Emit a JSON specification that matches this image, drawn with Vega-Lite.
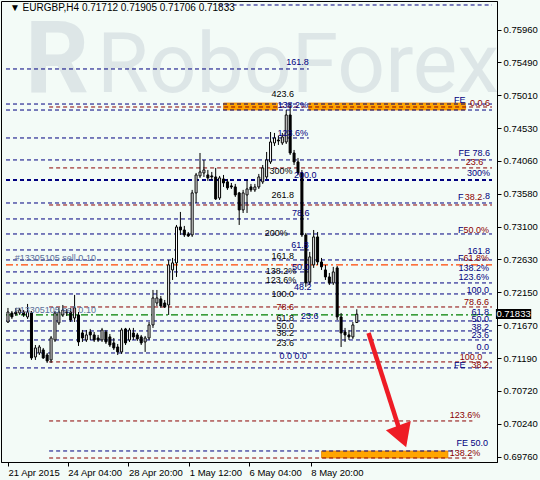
{
"$schema": "https://vega.github.io/schema/vega-lite/v6.json",
"width": 496, "height": 461,
"autosize": {"type": "none"},
"padding": {"left": 1, "top": 1, "right": 43, "bottom": 18},
"background": "#F3FBF7",
"view": {"stroke": "#000000", "fill": "#F3FBF7"},
"config": {"font": "Liberation Sans", "axis": {"grid": false, "labelOverlap": false, "labelFlush": false}},
"resolve": {"axis": {"x": "independent", "y": "independent"}},
"datasets": {
"wm": [{"i": 74, "p": 0.7506, "t": "RoboForex"}],
"logo": [{"i": 12.5, "p": 0.7506, "t": "R"}],
"rects": [
{"a": 55, "b": 68.75, "p1": 0.749, "p2": 0.74798},
{"a": 76.75, "b": 116.75, "p1": 0.749, "p2": 0.74798},
{"a": 80, "b": 112.25, "p1": 0.69847, "p2": 0.69745}],
"levels": [
{"p": 0.76323, "a": 53.75, "b": 123.5, "col": "#000080", "w": 1, "k": "d"},
{"p": 0.75394, "a": -0.5, "b": 76.75, "col": "#000080", "w": 1, "k": "d"},
{"p": 0.74885, "a": -0.5, "b": 123.5, "col": "#000080", "w": 1, "k": "d"},
{"p": 0.74842, "a": 10.5, "b": 123.5, "col": "#8B0000", "w": 1, "k": "d"},
{"p": 0.74798, "a": -0.5, "b": 123.5, "col": "#000080", "w": 1, "k": "d"},
{"p": 0.74392, "a": -0.5, "b": 76.75, "col": "#000080", "w": 1, "k": "d"},
{"p": 0.74073, "a": -0.5, "b": 123.5, "col": "#000080", "w": 1, "k": "d"},
{"p": 0.73957, "a": 10.5, "b": 123.5, "col": "#8B0000", "w": 1, "k": "d"},
{"p": 0.73783, "a": -0.5, "b": 123.5, "col": "#000080", "w": 2, "k": "d"},
{"p": 0.73448, "a": -0.5, "b": 123.5, "col": "#000080", "w": 1, "k": "d"},
{"p": 0.73419, "a": 10.5, "b": 123.5, "col": "#8B0000", "w": 1, "k": "d"},
{"p": 0.73216, "a": -0.5, "b": 76.75, "col": "#000080", "w": 1, "k": "d"},
{"p": 0.72998, "a": -0.5, "b": 123.5, "col": "#000080", "w": 1, "k": "d"},
{"p": 0.72766, "a": -0.5, "b": 76.75, "col": "#000080", "w": 1, "k": "d"},
{"p": 0.72621, "a": -0.5, "b": 123.5, "col": "#000080", "w": 1, "k": "d"},
{"p": 0.72549, "a": -0.5, "b": 123.5, "col": "#FF4500", "w": 1.2, "k": "dd"},
{"p": 0.72447, "a": -0.5, "b": 76.75, "col": "#000080", "w": 1, "k": "d"},
{"p": 0.72287, "a": -0.5, "b": 123.5, "col": "#000080", "w": 1, "k": "d"},
{"p": 0.72127, "a": -0.5, "b": 123.5, "col": "#000080", "w": 1, "k": "d"},
{"p": 0.71938, "a": 10.5, "b": 123.5, "col": "#8B0000", "w": 1, "k": "d"},
{"p": 0.71822, "a": -0.5, "b": 123.5, "col": "#008000", "w": 1.2, "k": "dd"},
{"p": 0.71735, "a": -0.5, "b": 123.5, "col": "#000080", "w": 1, "k": "d"},
{"p": 0.7159, "a": -0.5, "b": 123.5, "col": "#000080", "w": 1, "k": "d"},
{"p": 0.71459, "a": -0.5, "b": 123.5, "col": "#000080", "w": 1, "k": "d"},
{"p": 0.7127, "a": -0.5, "b": 123.5, "col": "#000080", "w": 1, "k": "d"},
{"p": 0.7114, "a": 10.5, "b": 123.5, "col": "#8B0000", "w": 1, "k": "d"},
{"p": 0.71053, "a": -0.5, "b": 123.5, "col": "#000080", "w": 1, "k": "d"},
{"p": 0.70283, "a": 10.5, "b": 118.5, "col": "#8B0000", "w": 1, "k": "d"},
{"p": 0.69847, "a": 10.5, "b": 114.25, "col": "#000080", "w": 1, "k": "d"},
{"p": 0.69745, "a": 10.5, "b": 118.5, "col": "#8B0000", "w": 1, "k": "d"}],
"candles": [
{"i":0,"o":0.7172,"h":0.71924,"l":0.71706,"c":0.71865},
{"i":1,"o":0.71851,"h":0.7188,"l":0.71764,"c":0.71793},
{"i":2,"o":0.71865,"h":0.71924,"l":0.71807,"c":0.71836},
{"i":3,"o":0.71851,"h":0.71924,"l":0.71822,"c":0.71894},
{"i":4,"o":0.71865,"h":0.71894,"l":0.71793,"c":0.71822},
{"i":5,"o":0.71793,"h":0.71982,"l":0.71764,"c":0.71865},
{"i":6,"o":0.71851,"h":0.7188,"l":0.71169,"c":0.71198},
{"i":7,"o":0.71212,"h":0.71386,"l":0.71169,"c":0.71343},
{"i":8,"o":0.7127,"h":0.71386,"l":0.71241,"c":0.71357},
{"i":9,"o":0.71314,"h":0.71343,"l":0.71183,"c":0.71198},
{"i":10,"o":0.71241,"h":0.7127,"l":0.71125,"c":0.71154},
{"i":11,"o":0.71169,"h":0.71517,"l":0.71125,"c":0.71488},
{"i":12,"o":0.71459,"h":0.7188,"l":0.7143,"c":0.71851},
{"i":13,"o":0.71706,"h":0.71924,"l":0.71677,"c":0.71865},
{"i":14,"o":0.71822,"h":0.71967,"l":0.71793,"c":0.71894},
{"i":15,"o":0.71865,"h":0.71909,"l":0.71807,"c":0.71851},
{"i":16,"o":0.71865,"h":0.71924,"l":0.7172,"c":0.71749},
{"i":17,"o":0.71778,"h":0.72113,"l":0.7172,"c":0.71924},
{"i":18,"o":0.71822,"h":0.71865,"l":0.71372,"c":0.7143},
{"i":19,"o":0.71561,"h":0.71604,"l":0.7143,"c":0.71488},
{"i":20,"o":0.71459,"h":0.71604,"l":0.7143,"c":0.71532},
{"i":21,"o":0.71575,"h":0.71619,"l":0.71459,"c":0.71532},
{"i":22,"o":0.71532,"h":0.71575,"l":0.7143,"c":0.71459},
{"i":23,"o":0.71488,"h":0.71532,"l":0.7143,"c":0.71459},
{"i":24,"o":0.71459,"h":0.71634,"l":0.7143,"c":0.71604},
{"i":25,"o":0.71575,"h":0.71604,"l":0.71401,"c":0.7143},
{"i":26,"o":0.71503,"h":0.71546,"l":0.71357,"c":0.71386},
{"i":27,"o":0.71416,"h":0.71488,"l":0.71314,"c":0.71343},
{"i":28,"o":0.71357,"h":0.71401,"l":0.71241,"c":0.71285},
{"i":29,"o":0.71285,"h":0.71634,"l":0.71256,"c":0.71604},
{"i":30,"o":0.71619,"h":0.71634,"l":0.71386,"c":0.71416},
{"i":31,"o":0.71459,"h":0.71634,"l":0.7143,"c":0.71604},
{"i":32,"o":0.71561,"h":0.71634,"l":0.71459,"c":0.71503},
{"i":33,"o":0.71532,"h":0.71561,"l":0.71445,"c":0.71474},
{"i":34,"o":0.71503,"h":0.71532,"l":0.71386,"c":0.71416},
{"i":35,"o":0.7143,"h":0.71517,"l":0.71285,"c":0.71488},
{"i":36,"o":0.71488,"h":0.7172,"l":0.71459,"c":0.71677},
{"i":37,"o":0.71677,"h":0.72185,"l":0.71634,"c":0.72069},
{"i":38,"o":0.71996,"h":0.72185,"l":0.71953,"c":0.72069},
{"i":39,"o":0.72055,"h":0.72098,"l":0.71924,"c":0.71953},
{"i":40,"o":0.71996,"h":0.7204,"l":0.71924,"c":0.71938},
{"i":41,"o":0.71967,"h":0.72621,"l":0.71822,"c":0.72549},
{"i":42,"o":0.72476,"h":0.7265,"l":0.7233,"c":0.72578},
{"i":43,"o":0.72578,"h":0.73129,"l":0.72374,"c":0.731},
{"i":44,"o":0.731,"h":0.73318,"l":0.72984,"c":0.73056},
{"i":45,"o":0.73056,"h":0.73115,"l":0.72955,"c":0.72984},
{"i":46,"o":0.72998,"h":0.73027,"l":0.72955,"c":0.72969},
{"i":47,"o":0.72984,"h":0.73638,"l":0.72955,"c":0.73594},
{"i":48,"o":0.73594,"h":0.73884,"l":0.73448,"c":0.73855},
{"i":49,"o":0.73841,"h":0.74174,"l":0.73812,"c":0.73899},
{"i":50,"o":0.73884,"h":0.74073,"l":0.73826,"c":0.73928},
{"i":51,"o":0.73855,"h":0.73928,"l":0.73768,"c":0.73812},
{"i":52,"o":0.73841,"h":0.73899,"l":0.73783,"c":0.73826},
{"i":53,"o":0.73826,"h":0.73957,"l":0.73492,"c":0.73507},
{"i":54,"o":0.73521,"h":0.73841,"l":0.73492,"c":0.73812},
{"i":55,"o":0.73797,"h":0.73855,"l":0.73681,"c":0.73739},
{"i":56,"o":0.73754,"h":0.73797,"l":0.73638,"c":0.73667},
{"i":57,"o":0.73696,"h":0.73739,"l":0.73652,"c":0.73681},
{"i":58,"o":0.73681,"h":0.73725,"l":0.73536,"c":0.73565},
{"i":59,"o":0.73594,"h":0.73609,"l":0.73129,"c":0.73347},
{"i":60,"o":0.73347,"h":0.73638,"l":0.73303,"c":0.73594},
{"i":61,"o":0.73565,"h":0.73783,"l":0.73303,"c":0.73652},
{"i":62,"o":0.73681,"h":0.73725,"l":0.73609,"c":0.73638},
{"i":63,"o":0.73638,"h":0.73725,"l":0.73609,"c":0.73681},
{"i":64,"o":0.73681,"h":0.7387,"l":0.73652,"c":0.73826},
{"i":65,"o":0.73754,"h":0.74,"l":0.73725,"c":0.73957},
{"i":66,"o":0.73826,"h":0.74189,"l":0.73797,"c":0.74073},
{"i":67,"o":0.74044,"h":0.74479,"l":0.74015,"c":0.74334},
{"i":68,"o":0.7432,"h":0.74465,"l":0.74276,"c":0.74392},
{"i":69,"o":0.74363,"h":0.74421,"l":0.74291,"c":0.74349},
{"i":70,"o":0.7432,"h":0.74465,"l":0.74291,"c":0.74407},
{"i":71,"o":0.74334,"h":0.74798,"l":0.74305,"c":0.74726},
{"i":72,"o":0.74726,"h":0.749,"l":0.74145,"c":0.74174},
{"i":73,"o":0.74174,"h":0.74218,"l":0.74,"c":0.74044},
{"i":74,"o":0.74044,"h":0.74102,"l":0.73855,"c":0.73884},
{"i":75,"o":0.73884,"h":0.73928,"l":0.72955,"c":0.72984},
{"i":76,"o":0.72984,"h":0.73013,"l":0.72229,"c":0.72287},
{"i":77,"o":0.72301,"h":0.72737,"l":0.72258,"c":0.72665},
{"i":78,"o":0.72549,"h":0.73056,"l":0.72505,"c":0.72955},
{"i":79,"o":0.72955,"h":0.73027,"l":0.72549,"c":0.72592},
{"i":80,"o":0.72592,"h":0.7265,"l":0.72476,"c":0.7252},
{"i":81,"o":0.72476,"h":0.72549,"l":0.7233,"c":0.72374},
{"i":82,"o":0.72374,"h":0.72432,"l":0.72258,"c":0.72287},
{"i":83,"o":0.72287,"h":0.7252,"l":0.72258,"c":0.72447},
{"i":84,"o":0.72505,"h":0.72534,"l":0.71749,"c":0.71793},
{"i":85,"o":0.71793,"h":0.71851,"l":0.71357,"c":0.71561},
{"i":86,"o":0.71575,"h":0.71634,"l":0.7143,"c":0.71532},
{"i":87,"o":0.71532,"h":0.71604,"l":0.71459,"c":0.71503},
{"i":88,"o":0.71503,"h":0.7172,"l":0.71474,"c":0.71677},
{"i":89,"o":0.71712,"h":0.71905,"l":0.71706,"c":0.71833}],
"labels": [
{"i":67.25,"p":0.75031,"t":"423.6","col":"#000000","a":"L"},
{"i":68.75,"p":0.74871,"t":"138.2%","col":"#000080","a":"L"},
{"i":71,"p":0.75495,"t":"161.8","col":"#000080","a":"L"},
{"i":68.75,"p":0.74465,"t":"123.6%","col":"#000080","a":"L"},
{"i":66.75,"p":0.73913,"t":"300%","col":"#000000","a":"L"},
{"i":73,"p":0.73855,"t":"200.0","col":"#000080","a":"L"},
{"i":67.25,"p":0.73565,"t":"261.8","col":"#000000","a":"L"},
{"i":72.5,"p":0.73303,"t":"78.6","col":"#000080","a":"L"},
{"i":65.5,"p":0.73013,"t":"200%","col":"#000000","a":"L"},
{"i":72.25,"p":0.72838,"t":"61.8","col":"#000080","a":"L"},
{"i":67.25,"p":0.72679,"t":"161.8","col":"#000000","a":"L"},
{"i":72.5,"p":0.7252,"t":"50.0","col":"#000080","a":"L"},
{"i":65.75,"p":0.72461,"t":"138.2%","col":"#000000","a":"L"},
{"i":65.75,"p":0.7233,"t":"123.6%","col":"#000000","a":"L"},
{"i":73,"p":0.72229,"t":"48.2","col":"#000080","a":"L"},
{"i":67.25,"p":0.72127,"t":"100.0","col":"#000000","a":"L"},
{"i":68.5,"p":0.71938,"t":"78.6","col":"#8B0000","a":"L"},
{"i":68.5,"p":0.71778,"t":"61.8","col":"#000000","a":"L"},
{"i":74.75,"p":0.71807,"t":"23.6","col":"#000080","a":"L"},
{"i":68.5,"p":0.71662,"t":"50.0","col":"#000000","a":"L"},
{"i":68.5,"p":0.71561,"t":"38.2","col":"#000000","a":"L"},
{"i":68.5,"p":0.71416,"t":"23.6","col":"#000000","a":"L"},
{"i":69.25,"p":0.71227,"t":"0.0 0.0","col":"#000080","a":"L"},
{"i":1.75,"p":0.7265,"t":"#13305105 sell 0.10","col":"#5A6E9A","a":"L"},
{"i":1.75,"p":0.71894,"t":"#13305105 sell 0.10","col":"#5A6E9A","a":"L"},
{"i":116.75,"p":0.74944,"t":"FE","col":"#000080","a":"R"},
{"i":123,"p":0.749,"t":"0.0.6","col":"#8B0000","a":"R"},
{"i":123,"p":0.74174,"t":"FE 78.6","col":"#000080","a":"R"},
{"i":121.25,"p":0.74044,"t":"23.6","col":"#8B0000","a":"R"},
{"i":123,"p":0.73884,"t":"300%","col":"#000080","a":"R"},
{"i":116.25,"p":0.73536,"t":"F","col":"#000080","a":"R"},
{"i":121,"p":0.73536,"t":"38.2","col":"#8B0000","a":"R"},
{"i":123,"p":0.7355,"t":".8","col":"#000080","a":"R"},
{"i":116.25,"p":0.73056,"t":"F","col":"#000080","a":"R"},
{"i":122.75,"p":0.73056,"t":"50.0%","col":"#8B0000","a":"R"},
{"i":123,"p":0.72752,"t":"161.8","col":"#000080","a":"R"},
{"i":116.25,"p":0.7265,"t":"F","col":"#000080","a":"R"},
{"i":122.75,"p":0.7265,"t":"61.8%","col":"#8B0000","a":"R"},
{"i":122.75,"p":0.72505,"t":"138.2%","col":"#000080","a":"R"},
{"i":122.75,"p":0.72374,"t":"123.6%","col":"#000080","a":"R"},
{"i":122.75,"p":0.72185,"t":"100.0","col":"#000080","a":"R"},
{"i":122.75,"p":0.72011,"t":"78.6.6","col":"#8B0000","a":"R"},
{"i":122.75,"p":0.71865,"t":"61.8","col":"#000080","a":"R"},
{"i":122.75,"p":0.71764,"t":"50.0","col":"#000080","a":"R"},
{"i":122.75,"p":0.71648,"t":"38.2","col":"#000080","a":"R"},
{"i":122.75,"p":0.71532,"t":"23.6","col":"#000080","a":"R"},
{"i":122.75,"p":0.71357,"t":"0.0","col":"#000080","a":"R"},
{"i":121,"p":0.71212,"t":"100.0","col":"#8B0000","a":"R"},
{"i":116.75,"p":0.71096,"t":"FE","col":"#000080","a":"R"},
{"i":122.75,"p":0.71096,"t":"38.2","col":"#8B0000","a":"R"},
{"i":120.5,"p":0.7037,"t":"123.6%","col":"#8B0000","a":"R"},
{"i":122.5,"p":0.69963,"t":"FE 50.0","col":"#000080","a":"R"},
{"i":120.5,"p":0.69818,"t":"138.2%","col":"#8B0000","a":"R"}],
"header": [{"i": 0.5, "p": 0.76279, "t": "▼ EURGBP,H4  0.71712 0.71905 0.71706 0.71833"}],
"arrow": [{"a": 92, "b": 99.75, "p1": 0.71561, "p2": 0.70181}],
"head": [{"i": 100.6, "p": 0.70059}],
"price": [{"a": 124.5, "b": 133.5, "p1": 0.71909, "p2": 0.71764, "i": 129, "p": 0.71833, "t": "0.71833"}]
},
"layer": [
{"data": {"name": "wm"},
 "mark": {"type": "text", "fontSize": 84, "font": "Roboto", "color": "#DDE6E7", "align": "center", "baseline": "alphabetic"},
 "encoding": {
  "x": {"field": "i", "type": "quantitative", "title": null, "scale": {"domain": [-0.5, 123.5], "nice": false, "zero": false},
   "axis": {"values": [0, 15.25, 30.75, 46.25, 61.5, 77.25], "labelExpr": "datum.value == 0 ? '21 Apr 2015' : datum.value == 15.25 ? '24 Apr 04:00' : datum.value == 30.75 ? '28 Apr 20:00' : datum.value == 46.25 ? '1 May 12:00' : datum.value == 61.5 ? '6 May 04:00' : '8 May 20:00'", "labelAlign": "left", "labelFlush": false, "labelOverlap": false, "labelFontSize": 9.5, "labelColor": "#000000", "tickColor": "#000000", "domainColor": "#000000", "tickSize": 4, "labelPadding": 1, "title": null}},
  "y": {"field": "p", "type": "quantitative", "title": null, "scale": {"domain": [0.69687, 0.76381], "nice": false, "zero": false},
   "axis": {"orient": "right", "values": [0.6976, 0.7024, 0.7072, 0.7119, 0.7167, 0.7215, 0.7263, 0.731, 0.7358, 0.7406, 0.7453, 0.7501, 0.7549, 0.7596], "format": ".5f", "labelFlush": false, "labelOverlap": false, "labelFontSize": 9.5, "labelColor": "#000000", "tickColor": "#000000", "domainColor": "#000000", "tickSize": 4, "labelPadding": 2, "title": null}},
  "text": {"field": "t"}}},
{"data": {"name": "logo"},
 "mark": {"type": "text", "fontSize": 100, "font": "Roboto", "fontWeight": "bold", "color": "#DDE6E7", "align": "center", "baseline": "alphabetic"},
 "encoding": {
  "x": {"field": "i", "type": "quantitative", "axis": null},
  "y": {"field": "p", "type": "quantitative", "axis": null},
  "text": {"field": "t"}}},
{"data": {"name": "rects"},
 "mark": {"type": "rect", "fill": "#FFA500", "stroke": "#E07800", "strokeWidth": 0.7},
 "encoding": {
  "x": {"field": "a", "type": "quantitative", "axis": null},
  "x2": {"field": "b"},
  "y": {"field": "p1", "type": "quantitative", "axis": null},
  "y2": {"field": "p2"}}},
{"data": {"name": "levels"},
 "transform": [{"filter": "datum.k == 'd'"}],
 "mark": {"type": "rule", "strokeDash": [4, 3]},
 "encoding": {
  "x": {"field": "a", "type": "quantitative", "axis": null},
  "x2": {"field": "b"},
  "y": {"field": "p", "type": "quantitative", "axis": null},
  "color": {"field": "col", "type": "nominal", "scale": null},
  "strokeWidth": {"field": "w", "type": "quantitative", "scale": null}}},
{"data": {"name": "levels"},
 "transform": [{"filter": "datum.k == 'dd'"}],
 "mark": {"type": "rule", "strokeDash": [7, 3, 2, 3]},
 "encoding": {
  "x": {"field": "a", "type": "quantitative", "axis": null},
  "x2": {"field": "b"},
  "y": {"field": "p", "type": "quantitative", "axis": null},
  "color": {"field": "col", "type": "nominal", "scale": null},
  "strokeWidth": {"field": "w", "type": "quantitative", "scale": null}}},
{"data": {"name": "candles"},
 "mark": {"type": "rule", "color": "#000000", "strokeWidth": 1},
 "encoding": {
  "x": {"field": "i", "type": "quantitative", "axis": null},
  "y": {"field": "l", "type": "quantitative", "axis": null},
  "y2": {"field": "h"}}},
{"data": {"name": "candles"},
 "mark": {"type": "bar", "width": 2, "stroke": "#000000", "strokeWidth": 1},
 "encoding": {
  "x": {"field": "i", "type": "quantitative", "axis": null},
  "y": {"field": "o", "type": "quantitative", "axis": null},
  "y2": {"field": "c"},
  "fill": {"condition": {"test": "datum.c >= datum.o", "value": "#FFFFFF"}, "value": "#000000"}}},
{"data": {"name": "labels"},
 "transform": [{"filter": "datum.a == 'L'"}],
 "mark": {"type": "text", "fontSize": 9, "align": "left", "baseline": "middle"},
 "encoding": {
  "x": {"field": "i", "type": "quantitative", "axis": null},
  "y": {"field": "p", "type": "quantitative", "axis": null},
  "text": {"field": "t"},
  "color": {"field": "col", "type": "nominal", "scale": null}}},
{"data": {"name": "labels"},
 "transform": [{"filter": "datum.a == 'R'"}],
 "mark": {"type": "text", "fontSize": 9, "align": "right", "baseline": "middle"},
 "encoding": {
  "x": {"field": "i", "type": "quantitative", "axis": null},
  "y": {"field": "p", "type": "quantitative", "axis": null},
  "text": {"field": "t"},
  "color": {"field": "col", "type": "nominal", "scale": null}}},
{"data": {"name": "header"},
 "mark": {"type": "text", "fontSize": 10, "align": "left", "baseline": "middle", "color": "#000000"},
 "encoding": {
  "x": {"field": "i", "type": "quantitative", "axis": null},
  "y": {"field": "p", "type": "quantitative", "axis": null},
  "text": {"field": "t"}}},
{"data": {"name": "arrow"},
 "mark": {"type": "rule", "color": "#EE1C25", "strokeWidth": 4.5},
 "encoding": {
  "x": {"field": "a", "type": "quantitative", "axis": null},
  "x2": {"field": "b"},
  "y": {"field": "p1", "type": "quantitative", "axis": null},
  "y2": {"field": "p2"}}},
{"data": {"name": "head"},
 "mark": {"type": "point", "shape": "triangle-down", "size": 700, "filled": true, "color": "#EE1C25", "opacity": 1, "angle": 340},
 "encoding": {
  "x": {"field": "i", "type": "quantitative", "axis": null},
  "y": {"field": "p", "type": "quantitative", "axis": null}}},
{"data": {"name": "price"},
 "mark": {"type": "rect", "fill": "#000000"},
 "encoding": {
  "x": {"field": "a", "type": "quantitative", "axis": null},
  "x2": {"field": "b"},
  "y": {"field": "p1", "type": "quantitative", "axis": null},
  "y2": {"field": "p2"}}},
{"data": {"name": "price"},
 "mark": {"type": "text", "fontSize": 9.5, "align": "center", "baseline": "middle", "color": "#FFFFFF"},
 "encoding": {
  "x": {"field": "i", "type": "quantitative", "axis": null},
  "y": {"field": "p", "type": "quantitative", "axis": null},
  "text": {"field": "t"}}}
]
}
